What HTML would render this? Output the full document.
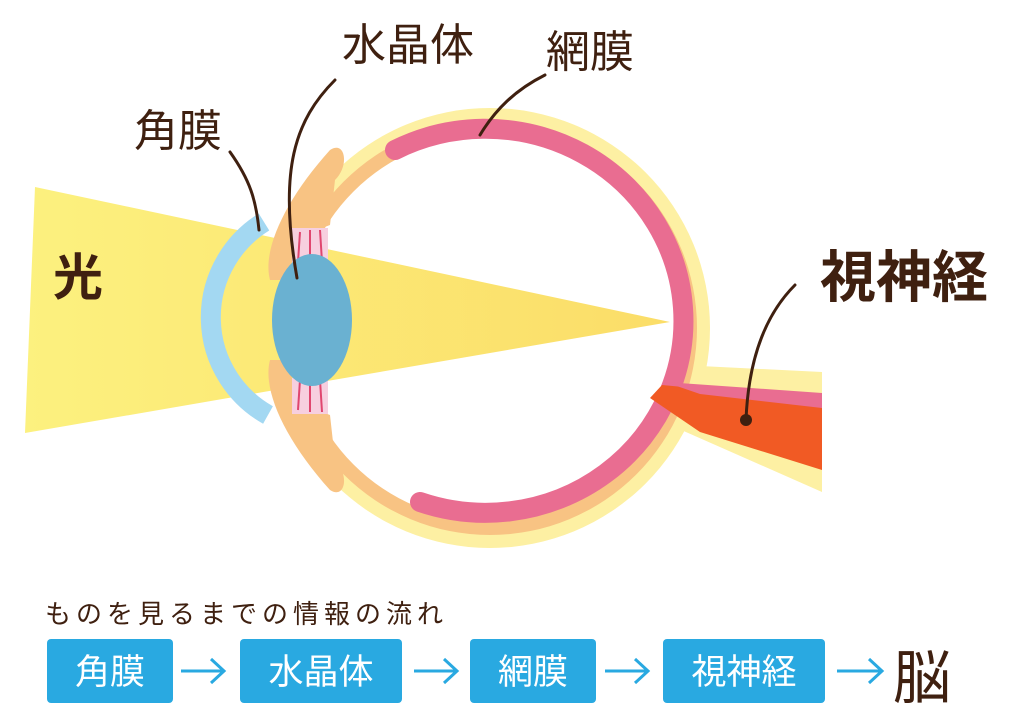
<!DOCTYPE html>
<html><head><meta charset="utf-8"><style>
html,body{margin:0;padding:0;background:#fff;}
body{width:1024px;height:721px;overflow:hidden;position:relative;font-family:"Liberation Sans","Noto Sans CJK JP",sans-serif;}
svg{position:absolute;left:0;top:0;}
</style></head><body>
<svg width="1024" height="721" viewBox="0 0 1024 721">
<defs>
<linearGradient id="beam" x1="0" x2="1" y1="0" y2="0">
<stop offset="0" stop-color="#fcf17f"/><stop offset="1" stop-color="#fbdd68"/></linearGradient>
</defs>
<polygon points="680,365 822,372 822,492 670,425" fill="#fdf0a3"/>
<circle cx="490" cy="328" r="220" fill="#fdf0a3"/>
<circle cx="490" cy="328" r="207" fill="#f8c383"/>
<circle cx="490" cy="328" r="193" fill="#fff"/>
<path d="M 395 150 A 198 192 0 1 1 420 502" fill="none" stroke="#e96d91" stroke-width="20" stroke-linecap="round"/>
<polygon points="35,187 670,322 25,433" fill="url(#beam)"/>
<path d="M 270 280 C 262 250 285 200 330 150 C 345 140 350 165 335 180 L 330 225 C 300 235 290 260 288 280 Z" fill="#f8c383"/>
<path d="M 270 360 C 262 390 285 440 330 490 C 345 500 350 475 335 460 L 330 415 C 300 405 290 380 288 360 Z" fill="#f8c383"/>
<rect x="292" y="228" width="36" height="36" fill="#f7cfdf"/>
<rect x="292" y="378" width="36" height="36" fill="#f7cfdf"/>
<g stroke="#e0466f" stroke-width="2">
<line x1="300" y1="232" x2="298" y2="262"/><line x1="310" y1="230" x2="310" y2="262"/><line x1="320" y1="230" x2="322" y2="262"/>
<line x1="300" y1="380" x2="298" y2="410"/><line x1="310" y1="380" x2="310" y2="412"/><line x1="320" y1="380" x2="322" y2="412"/>
</g>
<ellipse cx="312" cy="320" rx="40" ry="66" fill="#6ab1d1"/>
<path d="M 264 222 A 112 112 0 0 0 268 415" fill="none" stroke="#a3d8f2" stroke-width="20"/>
<polygon points="662,385 822,400 822,470 700,432 650,398" fill="#f15a24"/>
<polygon points="665,382 822,393 822,408 700,394" fill="#e96d91"/>
<g fill="none" stroke="#3f2010" stroke-width="3" stroke-linecap="round">
<path d="M 230 152 C 250 180 256 200 259 230"/>
<path d="M 335 80 C 295 120 278 170 297 278"/>
<path d="M 545 75 C 515 90 495 110 480 135"/>
<path d="M 795 285 C 760 320 748 370 746 420"/>
</g>
<circle cx="746" cy="420" r="6" fill="#3f2010"/>
<g fill="#3f2010" font-family="'Liberation Sans','Noto Sans CJK JP',sans-serif">
<text x="134" y="146" font-size="44">角膜</text>
<text x="342" y="60" font-size="44">水晶体</text>
<text x="546" y="67" font-size="44">網膜</text>
<text x="820" y="297" font-size="56" font-weight="bold">視神経</text>
<text x="53" y="295" font-size="50" font-weight="bold">光</text>
<text x="45" y="623" font-size="26" letter-spacing="5">ものを見るまでの情報の流れ</text>
<text x="893" y="698" font-size="58">脳</text>
</g>
<g fill="#29a9e1">
<rect x="47" y="639" width="126" height="64" rx="4"/>
<rect x="240" y="639" width="162" height="64" rx="4"/>
<rect x="470" y="639" width="126" height="64" rx="4"/>
<rect x="663" y="639" width="162" height="64" rx="4"/>
</g>
<g fill="#fff" font-size="35" text-anchor="middle" font-family="'Liberation Sans','Noto Sans CJK JP',sans-serif">
<text x="110" y="684">角膜</text>
<text x="321" y="684">水晶体</text>
<text x="533" y="684">網膜</text>
<text x="744" y="684">視神経</text>
</g>
<g fill="none" stroke="#29a9e1" stroke-width="3">
<path d="M181 671 H223 M211 659 L224 671 L211 683"/>
<path d="M414 671 H456 M444 659 L457 671 L444 683"/>
<path d="M605 671 H647 M635 659 L648 671 L635 683"/>
<path d="M837 671 H881 M869 659 L882 671 L869 683"/>
</g>
</svg>
</body></html>
